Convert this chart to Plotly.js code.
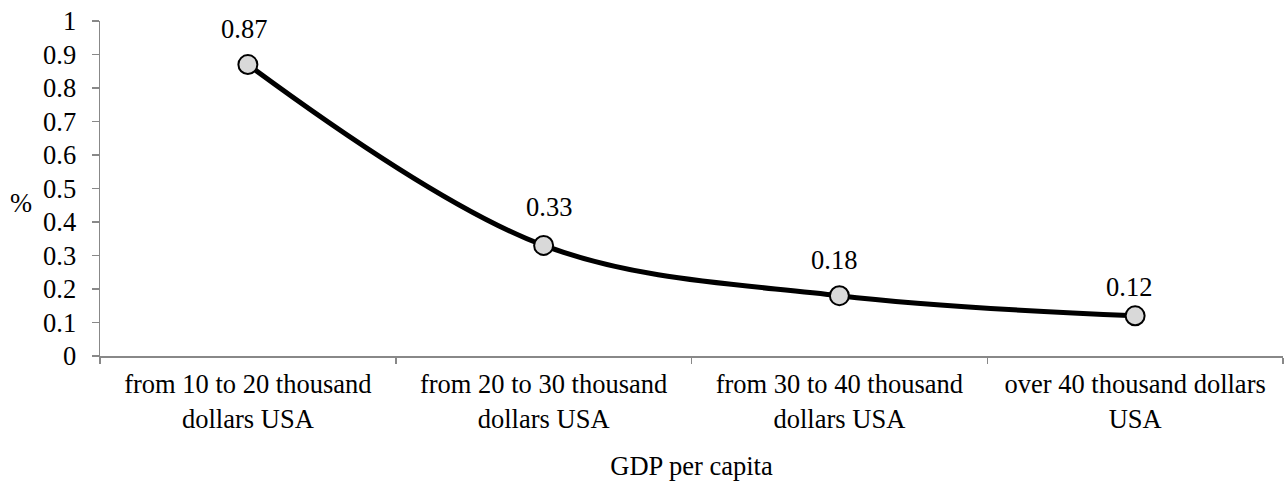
<!DOCTYPE html>
<html><head><meta charset="utf-8">
<script src="https://cdn.plot.ly/plotly-3.0.1.min.js"></script>
<style>html,body{margin:0;padding:0;background:#fff}#chart{width:1284px;height:483px}</style>
</head><body><div id="chart"></div>
<script>
const categories = ["from 10 to 20 thousand<br>dollars USA", "from 20 to 30 thousand<br>dollars USA", "from 30 to 40 thousand<br>dollars USA", "over 40 thousand dollars<br>USA"];
const values = [0.87, 0.33, 0.18, 0.12];
const valueLabels = ["0.87", "0.33", "0.18", "0.12"];
const yTicks = [0, 0.1, 0.2, 0.3, 0.4, 0.5, 0.6, 0.7, 0.8, 0.9, 1];
const yTickText = ["0", "0.1", "0.2", "0.3", "0.4", "0.5", "0.6", "0.7", "0.8", "0.9", "1"];

const mkFont = () => ({family: "Liberation Serif", size: 26.5, color: "#000"});

// label placement offsets (pixels), style only
const labelDy = [36, 38, 36, 29];
const labelDx = [-4, 5, -5, -6];

const trace = {
  x: categories, y: values, type: "scatter", mode: "lines+markers",
  line: {shape: "spline", smoothing: 1, color: "#000", width: 5},
  marker: {size: 19, color: "#d9d9d9", line: {color: "#000", width: 2}},
  hoverinfo: "none", cliponaxis: false
};

const annotations = values.map((v, i) => ({
  x: categories[i], y: v, xref: "x", yref: "y", text: valueLabels[i],
  showarrow: false, yshift: labelDy[i], xshift: labelDx[i], font: mkFont()
}));
annotations.push({xref: "paper", yref: "paper", x: -0.067, y: 0.458, text: "%", showarrow: false, font: mkFont(), xanchor: "center"});

const layout = {
  width: 1284, height: 483,
  margin: {l: 100, r: 1, t: 21, b: 127},
  paper_bgcolor: "#fff", plot_bgcolor: "#fff",
  showlegend: false, font: mkFont(),
  xaxis: {
    type: "category", range: [-0.5, 3.5], tickson: "boundaries",
    ticks: "outside", ticklen: 6, tickcolor: "#888", tickwidth: 1.5,
    showline: true, linecolor: "#888", linewidth: 1.5,
    showgrid: false, zeroline: false, tickfont: mkFont(), ticklabelstandoff: 4,
    title: {text: "GDP per capita", font: mkFont(), standoff: 23}
  },
  yaxis: {
    range: [0, 1], tickvals: yTicks, ticktext: yTickText,
    ticks: "outside", ticklen: 7, tickcolor: "#888", tickwidth: 1.5,
    showline: true, linecolor: "#888", linewidth: 1.5,
    showgrid: false, zeroline: false, tickfont: mkFont(), ticklabelstandoff: 10
  },
  annotations: annotations
};

Plotly.newPlot("chart", [trace], layout, {staticPlot: true, displayModeBar: false});
</script></body></html>
